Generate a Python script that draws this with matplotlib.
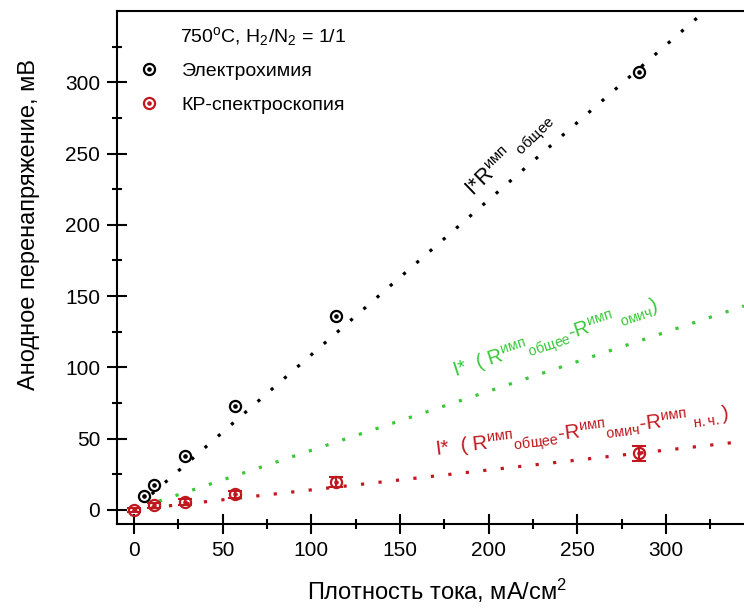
import matplotlib
matplotlib.use("Agg")
import matplotlib.pyplot as plt
from matplotlib.legend_handler import HandlerTuple

plt.rcParams['font.family'] = ['Liberation Sans', 'DejaVu Sans']
plt.rcParams['mathtext.fontset'] = 'custom'
plt.rcParams['mathtext.rm'] = 'Liberation Sans'
plt.rcParams['mathtext.it'] = 'Liberation Sans:italic'
plt.rcParams['mathtext.bf'] = 'Liberation Sans:bold'

# Электрохимия (current density, mA/cm2 -> overpotential, mV)
echem_j = [5.7, 11.4, 28.5, 57, 114, 285]
echem_eta = [9.8, 17.5, 38, 73, 136, 307]

# КР-спектроскопия
raman_j = [0, 11.4, 28.5, 57, 114, 285]
raman_eta = [0, 3, 5.5, 11, 19.5, 39.5]
raman_err = [1.5, 1.5, 2, 2.5, 3.5, 5.5]

# dotted fit lines, end points
fit_total_x = [10, 322]
fit_total_y = [11, 350]
fit_nohm_x = [14, 344]
fit_nohm_y = [6, 143]
fit_red_x = [0, 344]
fit_red_y = [0, 48]

BLACK = 'black'
GREEN = '#38c838'
RED = '#c0181e'

W, H = 744, 609
fig = plt.figure(figsize=(W / 100, H / 100), dpi=100)
ax = fig.add_axes([117 / W, (H - 524) / H, (W - 117) / W, 513 / H])

dots = dict(linestyle=(0, (1, 4.5)), linewidth=2.3)
ax.plot(fit_total_x, fit_total_y, color=BLACK, **dots)
ax.plot(fit_nohm_x, fit_nohm_y, color=GREEN, **dots)
ax.plot(fit_red_x, fit_red_y, color=RED, **dots)

# markers: open circle with a dot in the middle
circ = dict(marker='o', linestyle='none', ms=8, mew=1.6, mfc='none')
dot = dict(marker='o', linestyle='none', ms=2.3)
bc, = ax.plot(echem_j, echem_eta, color=BLACK, **circ)
bd, = ax.plot(echem_j, echem_eta, color=BLACK, **dot)
ax.errorbar(raman_j, raman_eta, yerr=raman_err, fmt='none', ecolor=RED,
            elinewidth=1.5, capsize=5, capthick=1.5)
rc, = ax.plot(raman_j, raman_eta, color=RED, **circ)
rd, = ax.plot(raman_j, raman_eta, color=RED, **dot)

ax.set_xlim(-9.6, 344)
ax.set_ylim(-10, 350)
ax.set_xticks(range(0, 301, 50))
ax.set_xticks(range(25, 326, 50), minor=True)
ax.set_yticks(range(0, 301, 50))
ax.set_yticks(range(25, 326, 50), minor=True)
ax.tick_params(which='major', direction='inout', length=14.4, width=1.5,
               labelsize=15, pad=5)
ax.tick_params(which='minor', direction='inout', length=6.5, width=1.5)
ax.tick_params(top=False, right=False, which='both')
for s in ['left', 'bottom', 'top']:
    ax.spines[s].set_linewidth(1.5)
ax.spines['right'].set_visible(False)

ax.set_xlabel('Плотность тока, мА/см$^{\\mathregular{2}}$', fontsize=17)
ax.xaxis.set_label_coords((437 - 117) / 627, -0.103)
ax.set_ylabel('Анодное перенапряжение, мВ', fontsize=17)
ax.yaxis.set_label_coords((40 - 117) / 627, 0.583)

# line captions
ax.text(212, 249, 'I*R$^{\\mathregular{имп}}$ $_{\\mathregular{общее}}$',
        rotation=44, rotation_mode='anchor', ha='center', va='center',
        fontsize=15.5, color=BLACK)
ax.text(238, 119,
        'I*  ( R$^{\\mathregular{имп}}$$_{\\mathregular{общее}}$-R$^{\\mathregular{имп}}$ $_{\\mathregular{омич}}$)',
        rotation=18, rotation_mode='anchor', ha='center', va='center',
        fontsize=14.5, color=GREEN)
ax.text(253, 53,
        'I*  ( R$^{\\mathregular{имп}}$$_{\\mathregular{общее}}$-R$^{\\mathregular{имп}}$$_{\\mathregular{омич}}$'
        '-R$^{\\mathregular{имп}}$ $_{\\mathregular{н.ч.}}$)',
        rotation=7, rotation_mode='anchor', ha='center', va='center',
        fontsize=14.8, color=RED)

fig.text(180 / W, 1 - 36 / H,
         '750$^{\\mathregular{o}}$C, H$_{\\mathregular{2}}$/N$_{\\mathregular{2}}$ = 1/1',
         va='center', fontsize=14)
ax.legend([(bc, bd), (rc, rd)], ['Электрохимия', 'КР-спектроскопия'],
          handler_map={tuple: HandlerTuple(ndivide=1)},
          loc='upper left', bbox_to_anchor=(139 / W, 1 - 62 / H),
          bbox_transform=fig.transFigure, frameon=False, fontsize=14,
          handlelength=1.0, handletextpad=1.2, labelspacing=0.85,
          borderpad=0, borderaxespad=0)

fig.savefig('out.png', dpi=100)
